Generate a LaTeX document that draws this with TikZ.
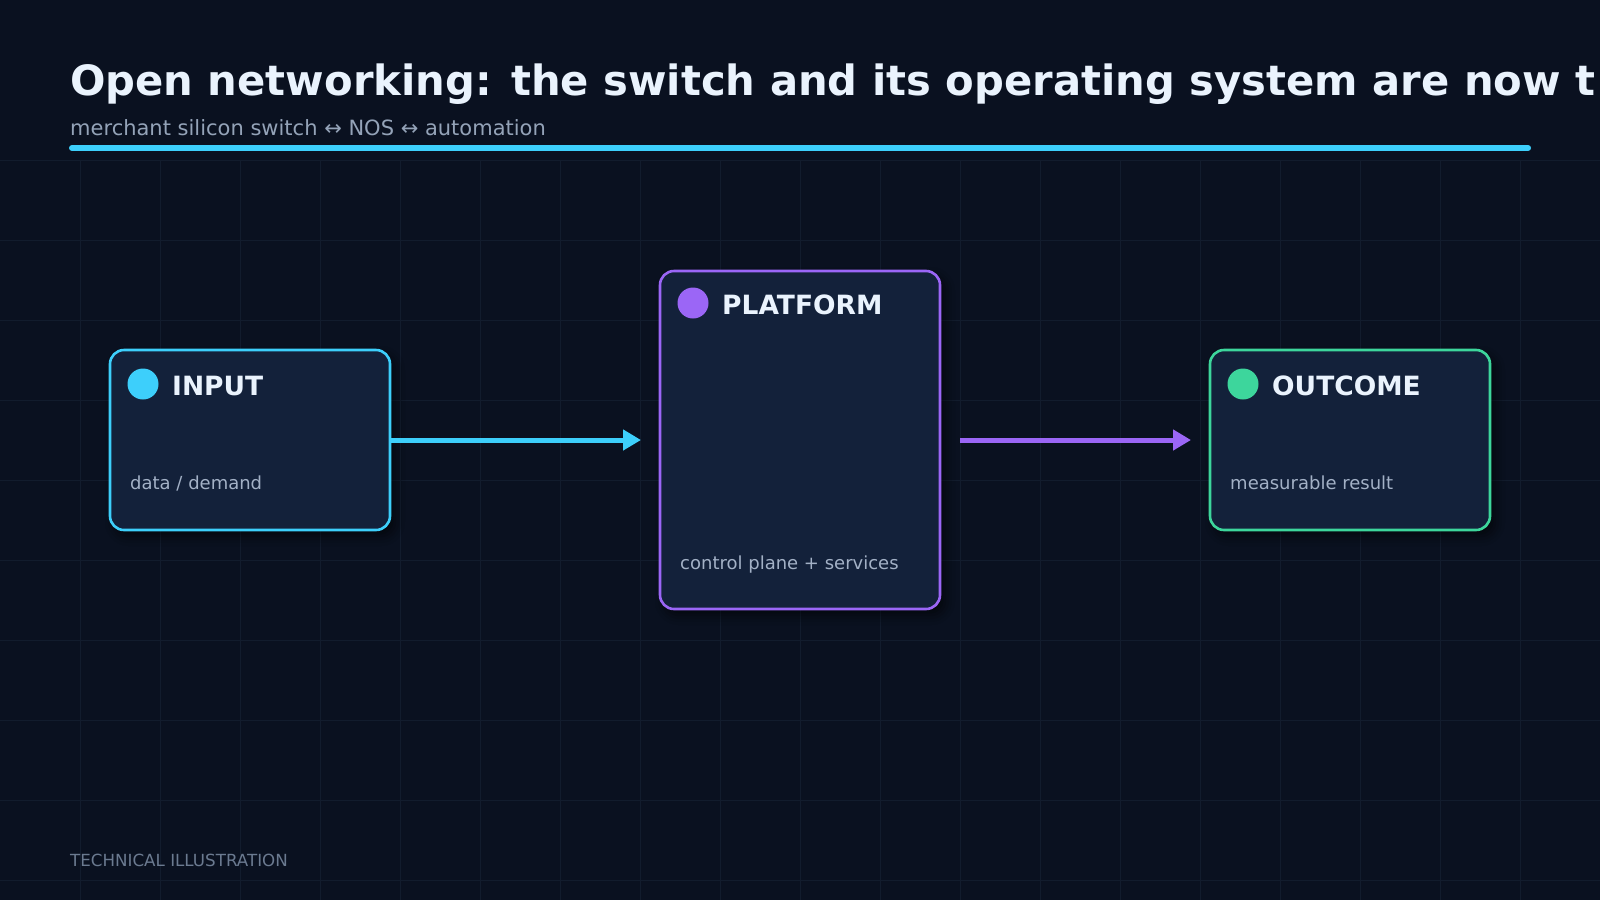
\documentclass[tikz,border=0pt]{standalone}
\usepackage{fontspec}
\setmainfont{DejaVu Sans}
\usetikzlibrary{arrows.meta,shadows.blur}
\definecolor{bg}{HTML}{0A1120}
\definecolor{gridc}{HTML}{121C2D}
\definecolor{boxfill}{HTML}{13213A}
\definecolor{cyanc}{HTML}{3DCFFB}
\definecolor{purplec}{HTML}{9B66F6}
\definecolor{greenc}{HTML}{3DD69C}
\definecolor{titlec}{HTML}{EAF3FD}
\definecolor{subc}{HTML}{94A3B8}
\definecolor{labelc}{HTML}{A3B1C6}
\definecolor{footc}{HTML}{6B7A90}
\tikzset{
  card/.style={draw=#1, line width=2.6pt, fill=boxfill, rounded corners=14pt,
    blur shadow={shadow xshift=5pt, shadow yshift=-6pt, shadow blur radius=10pt, shadow opacity=60}},
  dot/.style={circle, fill=#1, minimum size=31pt, inner sep=0pt},
  cardtitle/.style={anchor=base west, inner sep=0pt, text=titlec, font=\bfseries\fontsize{26.5}{30}\selectfont},
  cardlabel/.style={anchor=base west, inner sep=0pt, text=labelc, font=\fontsize{18}{22}\selectfont},
  flow/.style={draw=#1, line width=5pt, -{Triangle[length=18pt,width=20pt,fill=#1]}, shorten >=0pt},
}
\begin{document}
\begin{tikzpicture}[x=1pt,y=-1pt]
\useasboundingbox (0,0) rectangle (1600,900);
\fill[bg] (0,0) rectangle (1600,900);
% grid
\foreach \gx in {80,160,...,1560} {\draw[gridc, line width=1pt] (\gx,160) -- (\gx,900);}
\foreach \gy in {160,240,...,880} {\draw[gridc, line width=1pt] (0,\gy) -- (1600,\gy);}
% header
\node[anchor=base west, inner sep=0pt, text=titlec, font=\bfseries\fontsize{41.7}{48}\selectfont] (title) at (70,95) {Open networking: the switch and its operating system are now t};
\node[anchor=base west, inner sep=0pt, text=subc, font=\fontsize{21}{25}\selectfont] (subtitle) at (70,135) {merchant silicon switch ↔ NOS ↔ automation};
\coordinate (barL) at (72,148);
\coordinate (barR) at (1528,148);
\draw[cyanc, line width=6pt, line cap=round] (barL) -- (barR);
% cards
\node[card=cyanc, minimum width=280pt, minimum height=180pt, inner sep=0pt] (input) at (250,440) {};
\node[card=purplec, minimum width=280pt, minimum height=338pt, inner sep=0pt] (platform) at (800,440) {};
\node[card=greenc, minimum width=280pt, minimum height=180pt, inner sep=0pt] (outcome) at (1350,440) {};
% card contents
\node[dot=cyanc] (dotA) at (143,384) {};
\node[cardtitle] (tA) at (172,395) {INPUT};
\node[cardlabel] (lA) at (130,489) {data / demand};
\node[dot=purplec] (dotB) at (693,303) {};
\node[cardtitle] (tB) at (722,314) {PLATFORM};
\node[cardlabel] (lB) at (680,569) {control plane + services};
\node[dot=greenc] (dotC) at (1243,384) {};
\node[cardtitle] (tC) at (1272,395) {OUTCOME};
\node[cardlabel] (lC) at (1230,489) {measurable result};
% connectors
\coordinate (e1) at (641,440);
\coordinate (s2) at (960,440);
\coordinate (e2) at (1191,440);
\draw[flow=cyanc] (input.east) -- (e1);
\draw[flow=purplec] (s2) -- (e2);
% footer
\node[anchor=base west, inner sep=0pt, text=footc, font=\fontsize{16.7}{20}\selectfont] (foot) at (70,866) {TECHNICAL ILLUSTRATION};
\end{tikzpicture}
\end{document}
